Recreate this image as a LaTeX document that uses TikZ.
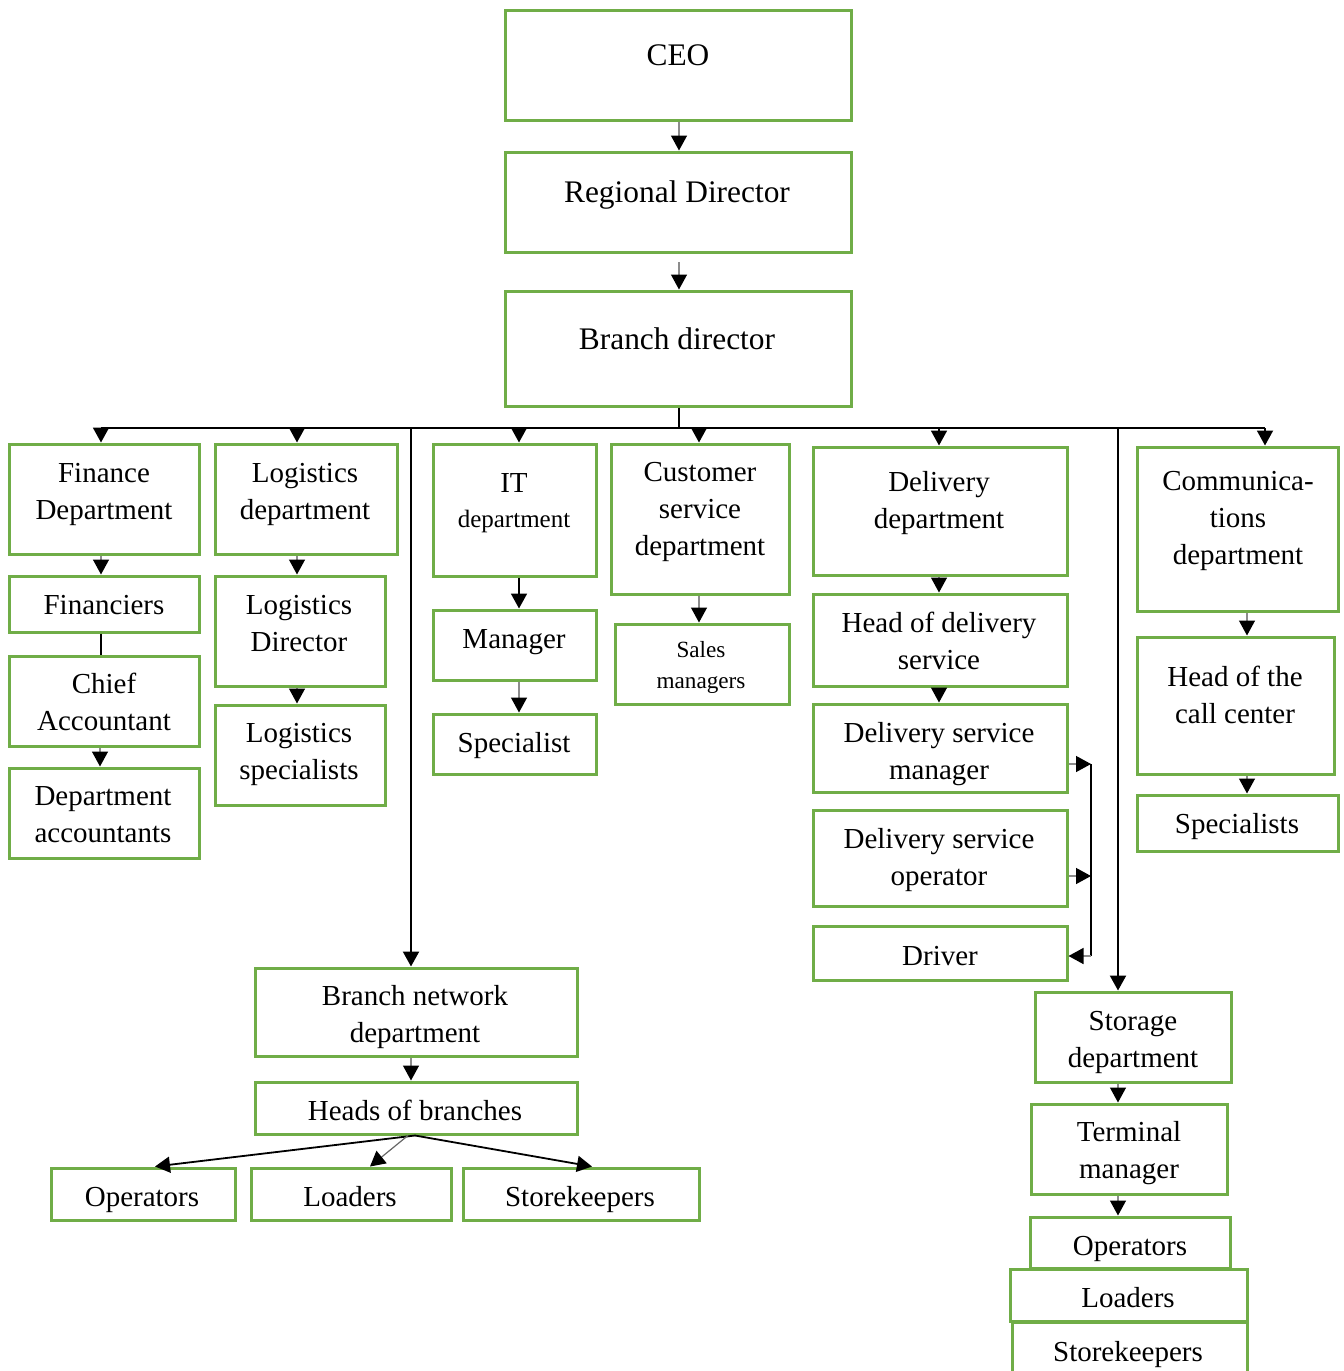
\documentclass[tikz,border=0pt]{standalone}
\usepackage{fontspec}
\setmainfont{Liberation Serif}
\usetikzlibrary{arrows.meta,fit}

\definecolor{boxgreen}{HTML}{70AD47}

\tikzset{
  unit/.style={x=0.5pt,y=-0.5pt},
  orgbox/.style={draw=boxgreen,line width=1.5pt,inner sep=0pt,rectangle},
  % labels are placed by the baseline of their last line
  lbl/.style={anchor=base,align=center,inner sep=0pt,
              font=\fontsize{14.5}{18.5}\selectfont},
  toplbl/.style={lbl,font=\fontsize{15.7}{19}\selectfont},
  smalllbl/.style={lbl,font=\fontsize{11.6}{15.5}\selectfont},
  link/.style={draw=black,line width=0.9pt},
  arr/.style={link,-{Triangle[width=8pt,length=7.5pt,color=black]}},
  stemarr/.style={arr,draw=black!45,line width=0.7pt},
  greyarr/.style={arr,draw=black!60,line width=0.6pt},
}

\begin{document}
\begin{tikzpicture}[unit]
\useasboundingbox (0,0) rectangle (1344,1371);

% ---------- top chain ----------
\node[orgbox,fit={(505,10) (851,120)}] (ceo) {};
\node[toplbl] (ceo-t) at (678,65) {CEO};
\node[orgbox,fit={(505,152) (851,252)}] (rd) {};
\node[toplbl] (rd-t) at (677,202) {Regional Director};
\node[orgbox,fit={(505,291) (851,406)}] (bd) {};
\node[toplbl] (bd-t) at (677,349) {Branch director};

\draw[stemarr] (ceo.south -| 679,0) -- (rd.north -| 679,0);
\draw[stemarr] (679,262) coordinate (rdlow) -- (bd.north -| 679,0);

% ---------- bus ----------
\coordinate (bus0) at (679,428);
\coordinate (tapFin) at (101,428);
\coordinate (tapLog) at (297,428);
\coordinate (tapNet) at (411,428);
\coordinate (tapIT) at (519,428);
\coordinate (tapCS) at (699,428);
\coordinate (tapDel) at (939,428);
\coordinate (tapSto) at (1118,428);
\coordinate (tapCom) at (1265,428);
\draw[link] (bd.south -| bus0) -- (bus0);
\draw[link] (tapFin) -- (tapCom);

% ---------- finance ----------
\node[orgbox,fit={(9,444) (199,554)}] (fin) {};
\node[lbl] (fin-t) at (104,519) {Finance\\Department};
\node[orgbox,fit={(9,576) (199,632)}] (fcs) {};
\node[lbl] (fcs-t) at (104,614) {Financiers};
\node[orgbox,fit={(9,656) (199,746)}] (chief) {};
\node[lbl] (chief-t) at (104,730) {Chief\\Accountant};
\node[orgbox,fit={(9,768) (199,858)}] (dacc) {};
\node[lbl] (dacc-t) at (103,842) {Department\\accountants};

\draw[arr] (tapFin) -- (tapFin |- fin.north);
\draw[stemarr] (fin.south -| tapFin) -- (fcs.north -| tapFin);
\draw[link] (fcs.south -| tapFin) -- (chief.north -| tapFin);
\draw[stemarr] (chief.south -| 100,0) -- (dacc.north -| 100,0);

% ---------- logistics ----------
\node[orgbox,fit={(215,444) (397,554)}] (log) {};
\node[lbl] (log-t) at (305,519) {Logistics\\department};
\node[orgbox,fit={(215,576) (385,686)}] (logdir) {};
\node[lbl] (logdir-t) at (299,651) {Logistics\\Director};
\node[orgbox,fit={(215,705) (385,805)}] (logsp) {};
\node[lbl] (logsp-t) at (299,779) {Logistics\\specialists};

\draw[arr] (tapLog) -- (tapLog |- log.north);
\draw[stemarr] (log.south -| tapLog) -- (logdir.north -| tapLog);
\draw[stemarr] (logdir.south -| tapLog) -- (logsp.north -| tapLog);

% ---------- IT ----------
\node[orgbox,fit={(433,444) (596,576)}] (it) {};
\node[lbl] (it-t) at (514,527) {IT\\[-1pt]{\fontsize{12.5}{16}\selectfont department}};
\node[orgbox,fit={(433,610) (596,680)}] (itman) {};
\node[lbl] (itman-t) at (514,648) {Manager};
\node[orgbox,fit={(433,714) (596,774)}] (itsp) {};
\node[lbl] (itsp-t) at (514,752) {Specialist};

\draw[arr] (tapIT) -- (tapIT |- it.north);
\draw[arr] (it.south -| tapIT) -- (itman.north -| tapIT);
\draw[stemarr] (itman.south -| tapIT) -- (itsp.north -| tapIT);

% ---------- customer service ----------
\node[orgbox,fit={(611,444) (789,594)}] (cs) {};
\node[lbl] (cs-t) at (700,555) {Customer\\service\\department};
\node[orgbox,fit={(615,624) (789,704)}] (sales) {};
\node[smalllbl] (sales-t) at (701,688) {Sales\\managers};

\draw[arr] (tapCS) -- (tapCS |- cs.north);
\draw[stemarr] (cs.south -| tapCS) -- (sales.north -| tapCS);

% ---------- delivery ----------
\node[orgbox,fit={(813,447) (1067,575)}] (del) {};
\node[lbl] (del-t) at (939,528) {Delivery\\department};
\node[orgbox,fit={(813,594) (1067,686)}] (hod) {};
\node[lbl] (hod-t) at (939,669) {Head of delivery\\service};
\node[orgbox,fit={(813,704) (1067,792)}] (dsm) {};
\node[lbl] (dsm-t) at (939,779) {Delivery service\\manager};
\node[orgbox,fit={(813,810) (1067,906)}] (dso) {};
\node[lbl] (dso-t) at (939,885) {Delivery service\\operator};
\node[orgbox,fit={(813,926) (1067,980)}] (drv) {};
\node[lbl] (drv-t) at (940,965) {Driver};

\draw[arr] (tapDel) -- (tapDel |- del.north);
\draw[stemarr] (del.south -| tapDel) -- (hod.north -| tapDel);
\draw[stemarr] (hod.south -| tapDel) -- (dsm.north -| tapDel);

\coordinate (brT) at (1091,764);
\coordinate (brM) at (1091,876);
\coordinate (brB) at (1091,956);
\draw[stemarr] (dsm.east |- brT) -- (brT);
\draw[stemarr] (dso.east |- brM) -- (brM);
\draw[link,line width=0.7pt] (brT) -- (brB);
\draw[stemarr] (brB) -- (drv.east |- brB);

% ---------- communications ----------
\node[orgbox,fit={(1137,447) (1338,611)}] (com) {};
\node[lbl] (com-t) at (1238,564) {Communica-\\tions\\department};
\node[orgbox,fit={(1137,637) (1334,774)}] (call) {};
\node[lbl] (call-t) at (1235,723) {Head of the\\call center};
\node[orgbox,fit={(1137,795) (1338,851)}] (comsp) {};
\node[lbl] (comsp-t) at (1237,833) {Specialists};

\draw[arr] (tapCom) -- (tapCom |- com.north);
\draw[stemarr] (com.south -| 1247,0) -- (call.north -| 1247,0);
\draw[stemarr] (call.south -| 1247,0) -- (comsp.north -| 1247,0);

% ---------- branch network ----------
\node[orgbox,fit={(255,968) (577,1056)}] (bnd) {};
\node[lbl] (bnd-t) at (415,1042) {Branch network\\department};
\node[orgbox,fit={(255,1082) (577,1134)}] (hob) {};
\node[lbl] (hob-t) at (415,1120) {Heads of branches};
\node[orgbox,fit={(51,1168) (235,1220)}] (bop) {};
\node[lbl] (bop-t) at (142,1206) {Operators};
\node[orgbox,fit={(251,1168) (451,1220)}] (blo) {};
\node[lbl] (blo-t) at (350,1206) {Loaders};
\node[orgbox,fit={(463,1168) (699,1220)}] (bst) {};
\node[lbl] (bst-t) at (580,1206) {Storekeepers};

\draw[arr,line width=1.1pt] (tapNet) -- (tapNet |- bnd.north);
\draw[stemarr] (bnd.south -| tapNet) -- (hob.north -| tapNet);
\draw[arr] (hob.south -| 415,0) -- (155,0 |- bop.north);
\draw[greyarr] (hob.south -| 408,0) -- (370,0 |- blo.north);
\draw[arr] (hob.south -| 415,0) -- (592,0 |- bst.north);

% ---------- storage ----------
\node[orgbox,fit={(1035,992) (1231,1082)}] (sto) {};
\node[lbl] (sto-t) at (1133,1067) {Storage\\department};
\node[orgbox,fit={(1031,1104) (1227,1194)}] (term) {};
\node[lbl] (term-t) at (1129,1178) {Terminal\\manager};
\node[orgbox,fit={(1030,1217) (1230,1268)}] (sop) {};
\node[lbl] (sop-t) at (1130,1255) {Operators};
\node[orgbox,fit={(1010,1269) (1247,1321)}] (slo) {};
\node[lbl] (slo-t) at (1128,1307) {Loaders};
\node[orgbox,fit={(1012,1322) (1247,1380)}] (sst) {};
\node[lbl] (sst-t) at (1128,1361) {Storekeepers};

\draw[arr,line width=1.1pt] (tapSto) -- (tapSto |- sto.north);
\draw[stemarr] (sto.south -| tapSto) -- (term.north -| tapSto);
\draw[stemarr] (term.south -| tapSto) -- (sop.north -| tapSto);
\end{tikzpicture}
\end{document}
